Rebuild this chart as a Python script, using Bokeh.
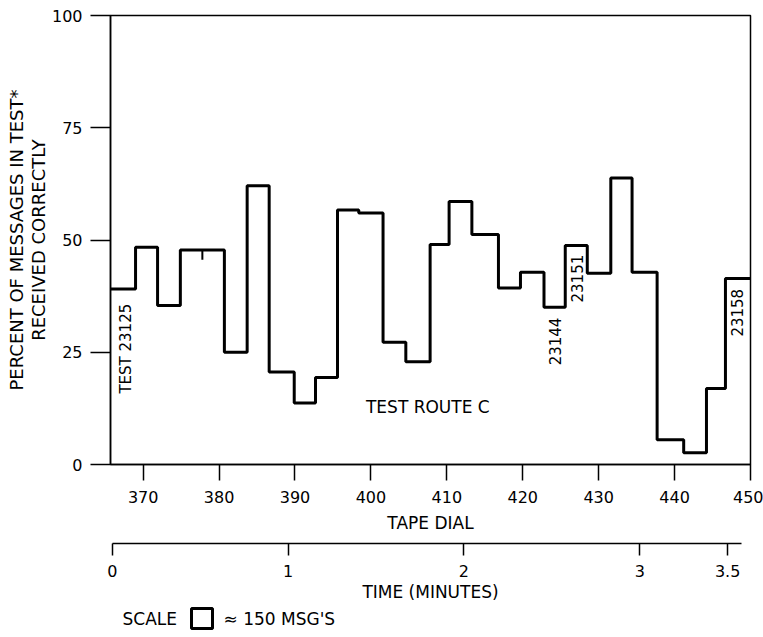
import math
from bokeh.plotting import figure
from bokeh.models import Range1d, FixedTicker, Label
from bokeh.layouts import column
from bokeh.core.properties import value
from bokeh.embed import file_html
from bokeh.resources import INLINE

# ---- data ----
tape_edges = [365.7, 369.0, 371.9, 374.9, 380.7, 383.7, 386.6, 389.9, 392.7,
              395.6, 398.4, 401.6, 404.6, 407.8, 410.3, 413.3, 416.8, 419.7,
              422.8, 425.6, 428.5, 431.6, 434.4, 437.7, 441.2, 444.2, 446.7, 450.0]
percent_correct = [39.1, 48.4, 35.4, 47.8, 25.0, 62.1, 20.6, 13.7, 19.4,
                   56.7, 56.0, 27.2, 22.9, 49.0, 58.6, 51.2, 39.3, 42.8,
                   35.0, 48.8, 42.6, 63.8, 42.8, 5.5, 2.6, 16.9, 41.4]
mark_x = [377.8]
mark_top = [47.8]
mark_bottom = [45.6]

y_ticks = [0, 25, 50, 75, 100]
x_ticks = [370, 380, 390, 400, 410, 420, 430, 440, 450]
time_ticks = [0, 1, 2, 3, 3.5]
time_labels = ["0", "1", "2", "3", "3.5"]

annot_text = ["TEST 23125", "23144", "23151", "23158"]
annot_x = [367.7, 424.3, 427.1, 448.2]
annot_y = [25.8, 27.4, 41.4, 33.8]

FONT = "DejaVu Sans"
W = 763


def style_axis(ax, tick_out, std, lab_std):
    ax.axis_line_color = "black"
    ax.axis_line_width = 1.5
    ax.major_tick_line_color = "black"
    ax.major_tick_line_width = 1.5
    ax.major_tick_out = tick_out
    ax.major_tick_in = 0
    ax.minor_tick_line_color = None
    ax.major_label_text_font = FONT
    ax.major_label_text_font_size = "16px"
    ax.major_label_text_color = "black"
    ax.major_label_standoff = std
    ax.axis_label_text_font = FONT
    ax.axis_label_text_font_style = "normal"
    ax.axis_label_text_color = "black"
    ax.axis_label_standoff = lab_std


# ---------------- main chart ----------------
p = figure(width=W, height=542,
           x_range=Range1d(365.7, 450), y_range=Range1d(0, 100),
           output_backend="svg", toolbar_location=None,
           min_border_left=110, min_border_right=13,
           min_border_top=15, min_border_bottom=78)
p.grid.visible = False
p.outline_line_color = "black"
p.outline_line_width = 1.5
p.outline_line_alpha = 1.0
p.background_fill_color = "white"
p.border_fill_color = "white"

xa = p.xaxis[0]
xa.ticker = FixedTicker(ticks=x_ticks)
style_axis(xa, 16, 10, 7)
xa.axis_label = "TAPE DIAL"
xa.axis_label_text_font_size = "17px"

ya = p.yaxis[0]
ya.ticker = FixedTicker(ticks=y_ticks)
style_axis(ya, 20, 8, 0)
ya.axis_label = "PERCENT OF MESSAGES IN TEST*\nRECEIVED CORRECTLY"
ya.axis_label_text_font_size = "18px"
ya.axis_label_text_line_height = 1.05

p.step(x=tape_edges, y=percent_correct + [percent_correct[-1]], mode="after",
       line_width=3, line_color="black")
p.segment(x0=mark_x, y0=mark_top, x1=mark_x, y1=mark_bottom,
          line_width=2, line_color="black")

for t, x, y in zip(annot_text, annot_x, annot_y):
    p.add_layout(Label(x=x, y=y, text=t, angle=math.pi / 2,
                       text_align="center", text_baseline="middle",
                       text_font=FONT, text_font_size="15px", text_color="black"))

p.add_layout(Label(x=407.5, y=12.8, text="TEST ROUTE C", text_align="center",
                   text_baseline="middle", text_font=FONT,
                   text_font_size="17px", text_color="black"))

# ---------------- time axis ----------------
q = figure(width=W, height=62,
           x_range=Range1d(-0.01, 3.63), y_range=Range1d(0, 1),
           output_backend="svg", toolbar_location=None,
           y_axis_location=None,
           min_border_left=110, min_border_right=13,
           min_border_top=0, min_border_bottom=60)
q.grid.visible = False
q.outline_line_color = None
q.background_fill_color = "white"
q.border_fill_color = "white"
ta = q.xaxis[0]
ta.ticker = FixedTicker(ticks=time_ticks)
ta.major_label_overrides = dict(zip(time_ticks, time_labels))
ta.bounds = (0, 3.58)
style_axis(ta, 12, 9, 2)
ta.axis_label = "TIME (MINUTES)"
ta.axis_label_text_font_size = "17px"

# ---------------- scale note (x in page pixels) ----------------
r = figure(width=W, height=33,
           x_range=Range1d(110, 750), y_range=Range1d(0, 33),
           output_backend="svg", toolbar_location=None,
           x_axis_location=None, y_axis_location=None,
           min_border_left=110, min_border_right=13,
           min_border_top=0, min_border_bottom=0)
r.grid.visible = False
r.outline_line_color = None
r.background_fill_color = "white"
r.border_fill_color = "white"
r.text(x=[122], y=[19], text=["SCALE"], text_align="left",
       text_baseline="middle", text_font=value(FONT),
       text_font_size="17px", text_color="black")
r.rect(x=[201.5], y=[19], width=21, height=20, fill_color=None,
       line_color="black", line_width=3)
r.text(x=[223], y=[19], text=["\u2248 150 MSG'S"], text_align="left",
       text_baseline="middle", text_font=value(FONT),
       text_font_size="17px", text_color="black")

layout = column(p, q, r, spacing=0)
open("out.html", "w").write(file_html(layout, INLINE))
